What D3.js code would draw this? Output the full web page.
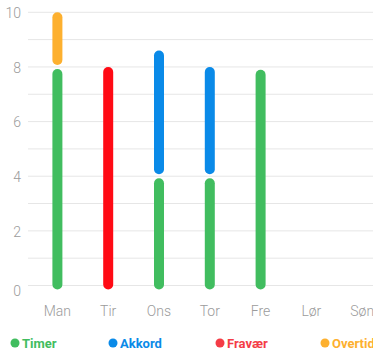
<!DOCTYPE html>
<html><head><meta charset="utf-8">
<script src="https://cdn.jsdelivr.net/npm/d3@7"></script>
<style>body{margin:0;background:#fff;}svg{display:block;}</style>
</head><body>
<svg id="c" width="373" height="349"></svg>
<script>
const days = ["Man","Tir","Ons","Tor","Fre","Lør","Søn"];
const seriesNames = ["Timer","Akkord","Fravær","Overtid"];
const barColors = ["#41bd5f","#0a8ae8","#ff0a14","#fdb02f"];
const legendColors = ["#41bd5f","#0a8ae8","#f43c46","#fdb02f"];
const timer   = [8, 0, 4, 4, 7.9, 0, 0];
const akkord  = [0, 0, 4.6, 4, 0, 0, 0];
const fravaer = [0, 8, 0, 0, 0, 0, 0];
const overtid = [2, 0, 0, 0, 0, 0, 0];
const yTicks = [0,2,4,6,8,10];

const svg = d3.select("#c");
const font = "Roboto, 'Helvetica Neue', Arial, sans-serif";
const x = d3.scaleBand().domain(days).range([32, 387.6]);
const y = d3.scaleLinear().domain([0,10]).range([285.5, 12.3]);

// gridlines
svg.append("g").selectAll("line").data(d3.range(0,11)).join("line")
  .attr("x1",28).attr("x2",373).attr("y1",d=>y(d)).attr("y2",d=>y(d))
  .attr("stroke","#e6e6e6").attr("stroke-width",1);

// y labels
svg.append("g").selectAll("text").data(yTicks).join("text")
  .attr("x",21).attr("y",d=>y(d)+(d===0?5:0.8)).attr("dy","0.36em").attr("text-anchor","end")
  .attr("font-family",font).attr("font-size",14).attr("font-weight",300).attr("fill","#9b9b9b").text(d=>d);

// x labels
svg.append("g").selectAll("text").data(days).join("text")
  .attr("x",d=>x(d)+x.bandwidth()/2).attr("y",315.5).attr("text-anchor","middle")
  .attr("font-family",font).attr("font-size",14).attr("font-weight",300).attr("fill","#9b9b9b").text(d=>d);

// stacked segments
const data = days.map((d,i)=>({day:d, vals:[timer[i],akkord[i],fravaer[i],overtid[i]]}));
const segs = [];
data.forEach(row=>{
  let acc = 0;
  const parts = [];
  row.vals.forEach((v,k)=>{ if(v>0){ parts.push({day:row.day,k,s:acc,e:acc+v}); acc+=v; } });
  parts.forEach((p,idx)=>{
    p.above = idx < parts.length-1;
    segs.push(p);
  });
});
const bw = 10;
svg.append("g").selectAll("rect").data(segs).join("rect")
  .attr("x",d=>x(d.day)+x.bandwidth()/2-bw/2)
  .attr("width",bw)
  .attr("y",d=>y(d.e)+(d.above?2:0))
  .attr("height",d=>{
    const top = y(d.e)+(d.above?2:0);
    const bot = d.s===0 ? y(0)+4 : y(d.s)-2;
    return bot-top;
  })
  .attr("rx",bw/2).attr("ry",bw/2)
  .attr("fill",d=>barColors[d.k]);

// legend
const legX = [15,113,220,325];
const lg = svg.append("g").selectAll("g").data(seriesNames).join("g")
  .attr("transform",(d,i)=>`translate(${legX[i]},343)`);
lg.append("circle").attr("r",4.5).attr("fill",(d,i)=>legendColors[i]);
lg.append("text").attr("x",7).attr("dy","0.36em").attr("font-family",font)
  .attr("font-size",13).attr("font-weight","bold").attr("fill",(d,i)=>legendColors[i]).text(d=>d);
</script>
</body></html>
